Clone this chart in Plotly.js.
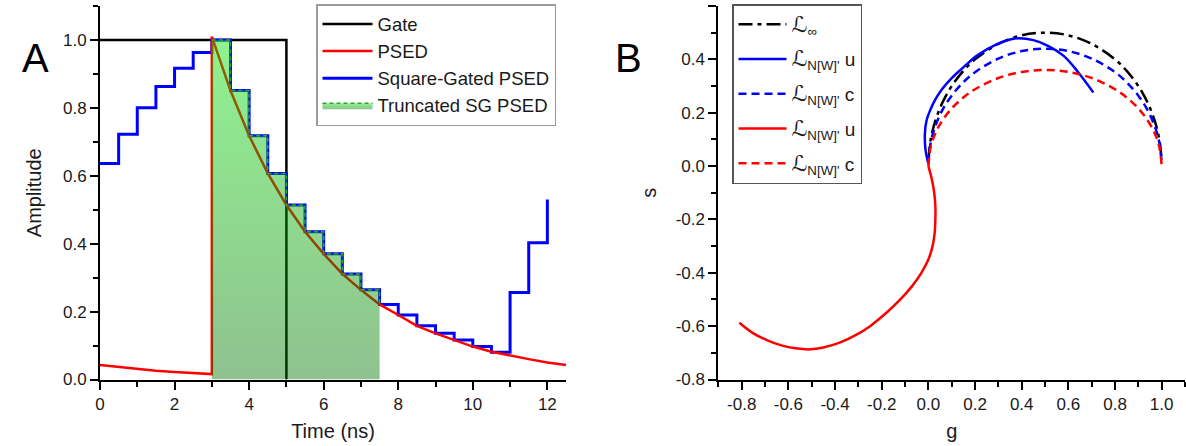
<!DOCTYPE html>
<html><head><meta charset="utf-8">
<script src="https://cdn.plot.ly/plotly-3.0.1.min.js"></script>
<style>html,body{margin:0;padding:0;background:#fff}#chart{width:1186px;height:446px}</style>
</head><body><div id="chart"></div><script>
// ---------- Panel A data ----------
const gateTime = [0, 5, 5];
const gateAmp  = [1.0, 1.0, 0.0];

const psedTime = [0, 0.5, 1, 1.5, 2, 2.5, 3, 3, 3.5, 4, 4.5, 5, 5.5, 6, 6.5, 7, 7.5, 8, 8.5, 9, 9.5, 10, 10.5, 11, 11.5, 12, 12.5];
const psedAmp  = [0.043, 0.037, 0.031, 0.026, 0.022, 0.019, 0.016, 1.01, 0.851, 0.718, 0.607, 0.514, 0.435, 0.370, 0.311, 0.264, 0.221, 0.190, 0.158, 0.136, 0.116, 0.097, 0.082, 0.070, 0.060, 0.050, 0.043];

const sgTime = [0, 0.5, 1, 1.5, 2, 2.5, 3, 3.5, 4, 4.5, 5, 5.5, 6, 6.5, 7, 7.5, 8, 8.5, 9, 9.5, 10, 10.5, 11, 11.5, 12];
const sgAmp  = [0.636, 0.722, 0.800, 0.863, 0.917, 0.963, 1.000, 0.851, 0.718, 0.607, 0.514, 0.435, 0.370, 0.311, 0.264, 0.221, 0.190, 0.158, 0.136, 0.116, 0.097, 0.080, 0.256, 0.403, 0.530];

const truncStart = 3, truncEnd = 7.5;

const seriesNamesA = ['Gate', 'PSED', 'Square-Gated PSED', 'Truncated SG PSED'];

// ---------- Panel B data ----------
const infG = [0, 0.01, 0.03, 0.06, 0.10, 0.15, 0.20, 0.30, 0.40, 0.50, 0.60, 0.70, 0.80, 0.85, 0.90, 0.94, 0.97, 0.99, 1.0];
const infS = [0.02, 0.10, 0.17, 0.237, 0.30, 0.357, 0.40, 0.458, 0.49, 0.50, 0.49, 0.458, 0.40, 0.357, 0.30, 0.237, 0.17, 0.10, 0.02];

const nwuG = [0.0, -0.012, -0.015, -0.008, 0.008, 0.03, 0.06, 0.10, 0.15, 0.21, 0.29, 0.37, 0.45, 0.515, 0.58, 0.643, 0.707];
const nwuS = [0.01, 0.06, 0.12, 0.17, 0.21, 0.25, 0.29, 0.33, 0.37, 0.415, 0.455, 0.478, 0.472, 0.45, 0.413, 0.351, 0.276];

const nwcG = [0, 0.01, 0.03, 0.06, 0.10, 0.15, 0.20, 0.30, 0.40, 0.50, 0.60, 0.70, 0.80, 0.85, 0.90, 0.94, 0.97, 0.99, 1.0];
const nwcS = [0.01, 0.088, 0.15, 0.21, 0.264, 0.314, 0.352, 0.403, 0.431, 0.44, 0.431, 0.403, 0.352, 0.314, 0.264, 0.209, 0.15, 0.088, 0.01];

const ncuG = [0.0, 0.015, 0.025, 0.030, 0.030, 0.027, 0.018, 0.0, -0.03, -0.07, -0.12, -0.18, -0.25, -0.31, -0.38, -0.45, -0.506, -0.57, -0.63, -0.69, -0.75, -0.81];
const ncuS = [0.0, -0.05, -0.10, -0.15, -0.20, -0.25, -0.30, -0.35, -0.40, -0.45, -0.50, -0.55, -0.60, -0.633, -0.662, -0.68, -0.687, -0.683, -0.672, -0.653, -0.627, -0.587];

const nccG = [0, 0.01, 0.03, 0.06, 0.10, 0.15, 0.20, 0.30, 0.40, 0.50, 0.60, 0.70, 0.80, 0.85, 0.90, 0.94, 0.97, 0.99, 1.0];
const nccS = [0.0, 0.072, 0.123, 0.171, 0.216, 0.257, 0.288, 0.33, 0.353, 0.36, 0.353, 0.33, 0.288, 0.257, 0.216, 0.171, 0.123, 0.072, 0.0];

const seriesNamesB = [
  '<span style="font-size:22px">ℒ</span><sub>∞</sub>',
  '<span style="font-size:22px">ℒ</span><sub>N[W]\'</sub> u',
  '<span style="font-size:22px">ℒ</span><sub>N[W]\'</sub> c',
  '<span style="font-size:22px">ℒ</span><sub>N[W]\'</sub> u',
  '<span style="font-size:22px">ℒ</span><sub>N[W]\'</sub> c'
];

const gTickVals = [-0.8, -0.6, -0.4, -0.2, 0.0, 0.2, 0.4, 0.6, 0.8, 1.0];
const gTickText = ['-0.8', '-0.6', '-0.4', '-0.2', '0.0', '0.2', '0.4', '0.6', '0.8', '1.0'];
const sTickVals = [-0.8, -0.6, -0.4, -0.2, 0.0, 0.2, 0.4, 0.6];
const sTickText = ['-0.8', '-0.6', '-0.4', '-0.2', '0.0', '0.2', '0.4', '0.6'];

// ---------- traces ----------
const truncT = [], truncA = [];
sgTime.forEach((t, i) => { if (t >= truncStart && t <= truncEnd) { truncT.push(t); truncA.push(sgAmp[i]); } });

const traces = [
  {x: gateTime, y: gateAmp, name: seriesNamesA[0], mode: 'lines', line: {color: '#000', width: 2.5}, legendrank: 1, legend: 'legend'},
  {x: sgTime, y: sgAmp, name: seriesNamesA[2], mode: 'lines', line: {color: '#0000ff', width: 3, shape: 'hv'}, legendrank: 3, legend: 'legend'},
  {x: psedTime, y: psedAmp, name: seriesNamesA[1], mode: 'lines', line: {color: '#ff0000', width: 2.5}, legendrank: 2, legend: 'legend'},
  {x: truncT, y: truncA, name: seriesNamesA[3], mode: 'lines', fill: 'tozeroy',
   fillgradient: {type: 'vertical', colorscale: [[0, 'rgba(0,115,0,0.44)'], [1, 'rgba(0,225,0,0.44)']]},
   line: {color: 'rgb(40,170,40)', width: 1.5, dash: '4px,3px', shape: 'hv'}, legendrank: 4, legend: 'legend'},

  {x: infG, y: infS, name: seriesNamesB[0], mode: 'lines', xaxis: 'x2', yaxis: 'y2', legendgroup: 'b1', line: {color: '#000', width: 2.5, dash: '14px,5px,4px,5px', shape: 'spline', smoothing: 1}, legend: 'legend2'},
  {x: nwuG, y: nwuS, name: seriesNamesB[1], mode: 'lines', xaxis: 'x2', yaxis: 'y2', legendgroup: 'b2', line: {color: '#0000ff', width: 2.5, shape: 'spline', smoothing: 1}, legend: 'legend2'},
  {x: nwcG, y: nwcS, name: seriesNamesB[2], mode: 'lines', xaxis: 'x2', yaxis: 'y2', legendgroup: 'b3', line: {color: '#0000ff', width: 2.5, dash: '8px,5px', shape: 'spline', smoothing: 1}, legend: 'legend2'},
  {x: ncuG, y: ncuS, name: seriesNamesB[3], mode: 'lines', xaxis: 'x2', yaxis: 'y2', legendgroup: 'b4', line: {color: '#ff0000', width: 2.5, shape: 'spline', smoothing: 1}, legend: 'legend2'},
  {x: nccG, y: nccS, name: seriesNamesB[4], mode: 'lines', xaxis: 'x2', yaxis: 'y2', legendgroup: 'b5', line: {color: '#ff0000', width: 2.5, dash: '8px,5px', shape: 'spline', smoothing: 1}, legend: 'legend2'}
];

const font = {family: 'Liberation Sans, Arial, DejaVu Sans, sans-serif', color: '#1a1a1a'};
const axisCommon = {
  showline: true, linewidth: 2, linecolor: '#000', showgrid: false, zeroline: false,
  ticks: 'outside', ticklen: 8, tickwidth: 2, tickcolor: '#000',
  tickfont: {size: 17}, fixedrange: true
};
const minorCommon = {ticks: 'outside', ticklen: 5, tickwidth: 2, tickcolor: '#000', showgrid: false};

const yDom = [66.5 / 446, 440 / 446];

const layout = {
  width: 1186, height: 446,
  margin: {l: 0, r: 0, t: 0, b: 0, autoexpand: false},
  paper_bgcolor: '#fff', plot_bgcolor: 'rgba(0,0,0,0)',
  font: font,
  showlegend: true,
  xaxis: Object.assign({}, axisCommon, {
    domain: [100 / 1186, 566 / 1186], range: [0, 12.5], anchor: 'y',
    tickmode: 'linear', tick0: 0, dtick: 2,
    minor: Object.assign({}, minorCommon, {tickmode: 'linear', tick0: 0, dtick: 1}),
    title: {text: 'Time (ns)', font: {size: 20}, standoff: 11}
  }),
  yaxis: Object.assign({}, axisCommon, {
    domain: yDom, range: [0, 1.1], anchor: 'x',
    tickmode: 'linear', tick0: 0, dtick: 0.2, tickformat: '.1f',
    minor: Object.assign({}, minorCommon, {tickmode: 'linear', tick0: 0, dtick: 0.1}),
    title: {text: 'Amplitude', font: {size: 20}, standoff: 16}
  }),
  xaxis2: Object.assign({}, axisCommon, {
    domain: [718.4 / 1186, 1185 / 1186], range: [-0.9, 1.1], anchor: 'y2',
    tickmode: 'array', tickvals: gTickVals, ticktext: gTickText,
    minor: Object.assign({}, minorCommon, {tickmode: 'linear', tick0: 0, dtick: 0.1}),
    title: {text: 'g', font: {size: 20}, standoff: 11}
  }),
  yaxis2: Object.assign({}, axisCommon, {
    domain: yDom, range: [-0.8, 0.6], anchor: 'x2',
    tickmode: 'array', tickvals: sTickVals, ticktext: sTickText,
    minor: Object.assign({}, minorCommon, {tickmode: 'linear', tick0: 0, dtick: 0.1}),
    title: {text: 's', font: {size: 20}, standoff: 14}
  }),
  legend: {
    x: 316 / 1186, y: 442 / 446, xanchor: 'left', yanchor: 'top',
    bgcolor: '#fff', bordercolor: '#9a9a9a', borderwidth: 1.5,
    font: {size: 18.5, family: font.family, color: '#1a1a1a'},
    itemwidth: 50, traceorder: 'normal'
  },
  legend2: {
    x: 732 / 1186, y: 442 / 446, xanchor: 'left', yanchor: 'top',
    bgcolor: '#fff', bordercolor: '#555', borderwidth: 1.5,
    font: {size: 19, family: font.family, color: '#1a1a1a'},
    itemwidth: 48, traceorder: 'grouped', tracegroupgap: 7
  },
  annotations: [
    {text: 'A', x: 20 / 1186, y: (446 - 34) / 446, xref: 'paper', yref: 'paper', showarrow: false, font: {size: 40, color: '#000'}},
    {text: 'B', x: 628 / 1186, y: (446 - 34) / 446, xref: 'paper', yref: 'paper', showarrow: false, font: {size: 40, color: '#000'}}
  ]
};

Plotly.newPlot('chart', traces, layout, {staticPlot: true, displayModeBar: false});
</script></body></html>
